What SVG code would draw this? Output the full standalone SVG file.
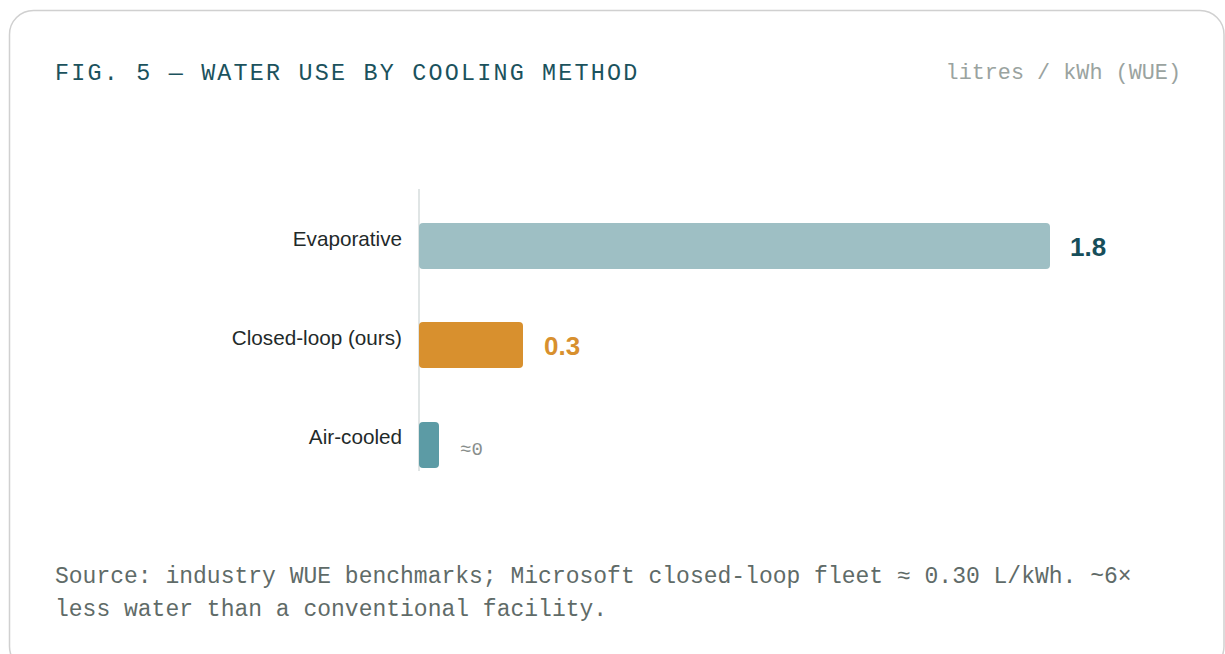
<svg xmlns="http://www.w3.org/2000/svg" width="1225" height="654" viewBox="0 0 1225 654">
<style>
.mono{font-family:"Liberation Mono","DejaVu Sans Mono",monospace}
.sans{font-family:"Liberation Sans",Arial,sans-serif}
.cat{font-size:20.7px;fill:#1f2a2a;text-anchor:end}
.val{font-size:26px;font-weight:bold}
</style>
<rect x="9.5" y="10.5" width="1214.5" height="660" rx="24" fill="#ffffff" stroke="#d0d0d0" stroke-width="1.5"/>
<text class="mono" x="55" y="79.5" font-size="23.4" letter-spacing="2.2" fill="#1b525d">FIG. 5 — WATER USE BY COOLING METHOD</text>
<text class="mono" x="1181" y="79" font-size="21.8" fill="#9aa3a0" text-anchor="end">litres / kWh (WUE)</text>
<g id="axis"><line x1="419" y1="189" x2="419" y2="471" stroke="#d6dcdc" stroke-width="1.5"/></g>
<g id="evaporative">
<text class="sans cat" x="402" y="246">Evaporative</text>
<rect x="419" y="223" width="631" height="46" rx="4" fill="#9ebfc4"/>
<text class="sans val" x="1070" y="256" fill="#174e5a">1.8</text>
</g>
<g id="closed-loop">
<text class="sans cat" x="402" y="345">Closed-loop (ours)</text>
<rect x="419" y="322" width="104" height="46" rx="4" fill="#d8902e"/>
<text class="sans val" x="544" y="355" fill="#d8902e">0.3</text>
</g>
<g id="air-cooled">
<text class="sans cat" x="402" y="444">Air-cooled</text>
<rect x="419" y="422" width="20" height="46" rx="4" fill="#5c9ba5"/>
<text class="mono" x="460" y="455" font-size="19" fill="#888e8c">≈0</text>
</g>
<g id="connectors"></g>
<text class="mono" font-size="23" fill="#5f6b68"><tspan x="55" y="583">Source: industry WUE benchmarks; Microsoft closed-loop fleet ≈ 0.30 L/kWh. ~6×</tspan><tspan x="55" y="615.5">less water than a conventional facility.</tspan></text>
</svg>
